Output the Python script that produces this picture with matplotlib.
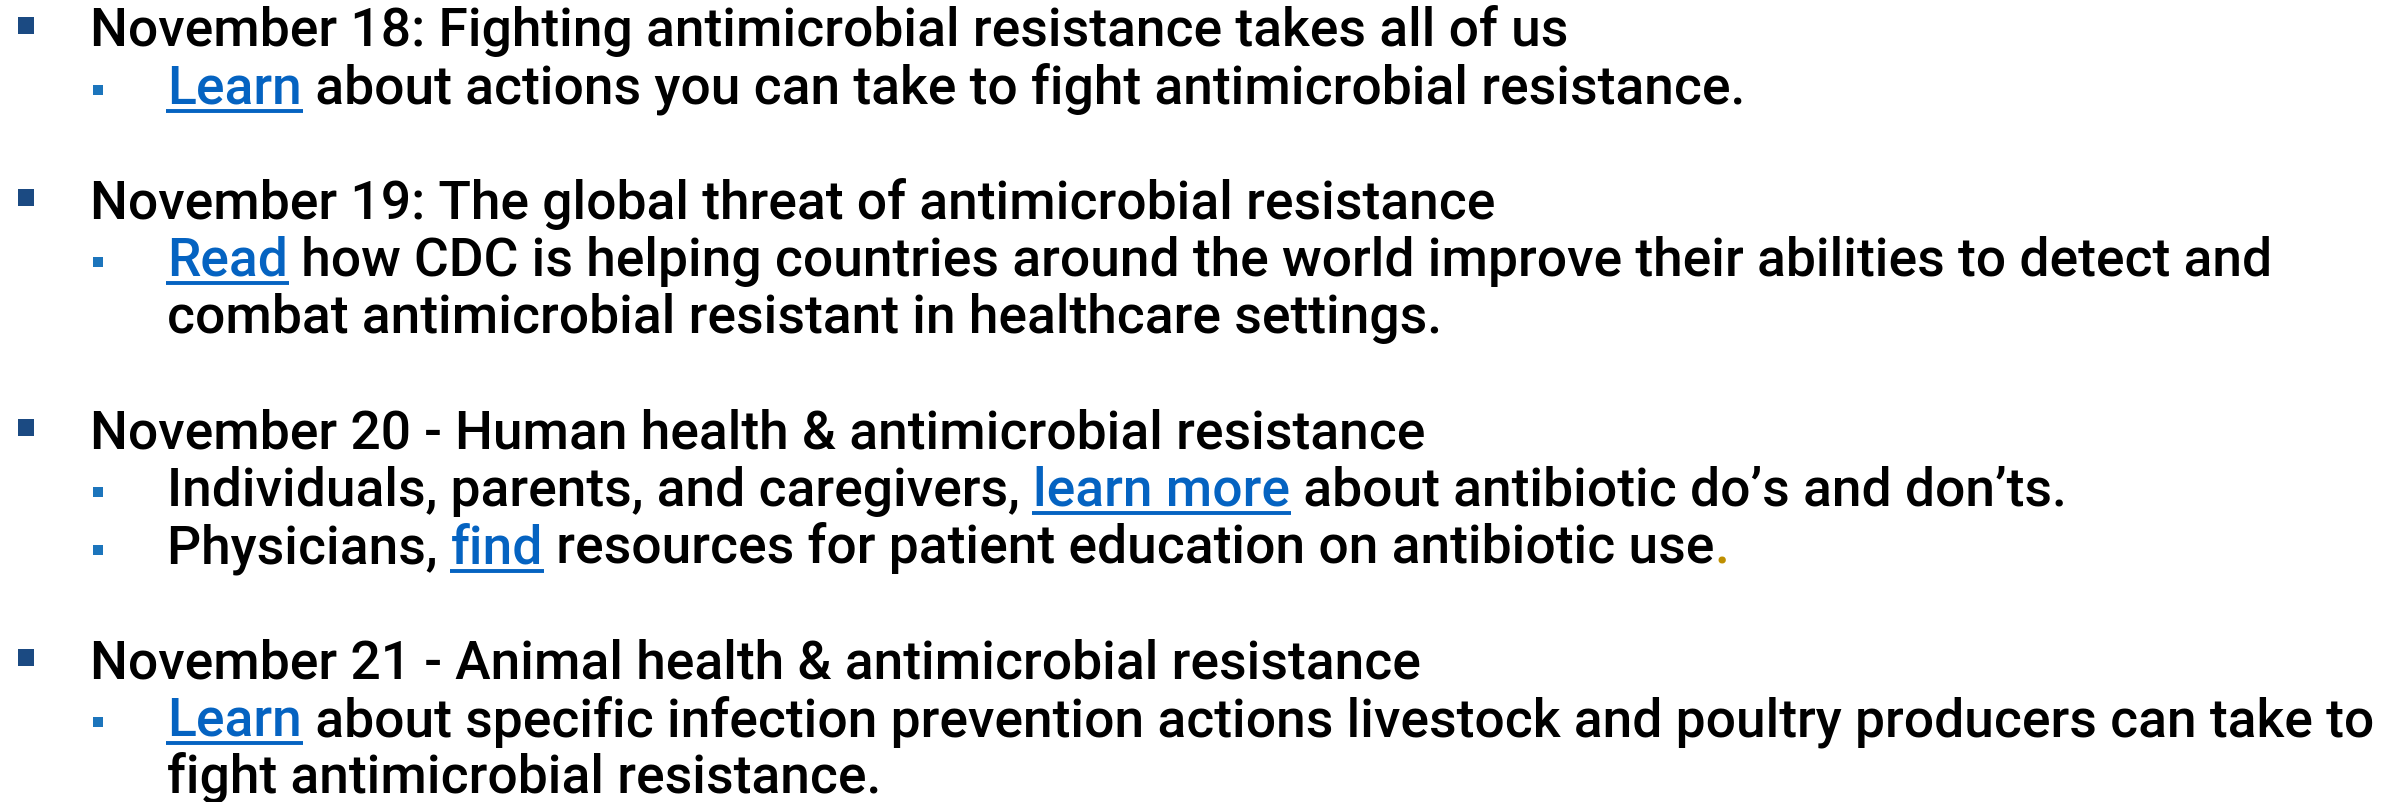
import matplotlib
matplotlib.use("Agg")
import matplotlib.pyplot as plt
from matplotlib.patches import Rectangle

# ---------------- content ----------------
headings = [
    "November 18: Fighting antimicrobial resistance takes all of us",
    "November 19: The global threat of antimicrobial resistance",
    "November 20 - Human health & antimicrobial resistance",
    "November 21 - Animal health & antimicrobial resistance",
]

# sub bullets per heading: each item is a list of lines, each line a list of (text, kind)
sub_items_18 = [
    [[("Learn", "link"), (" about actions you can take to fight antimicrobial resistance.", "plain")]],
]
sub_items_19 = [
    [[("Read", "link"), (" how CDC is helping countries around the world improve their abilities to detect and", "plain")],
     [("combat antimicrobial resistant in healthcare settings.", "plain")]],
]
sub_items_20 = [
    [[("Individuals, parents, and caregivers, ", "plain"), ("learn more", "link"),
      (" about antibiotic do\u2019s and don\u2019ts.", "plain")]],
    [[("Physicians, ", "plain"), ("find", "link"),
      (" resources for patient education on antibiotic use", "plain"), (".", "gold")]],
]
sub_items_21 = [
    [[("Learn", "link"), (" about specific infection prevention actions livestock and poultry producers can take to", "plain")],
     [("fight antimicrobial resistance.", "plain")]],
]
sub_items = [sub_items_18, sub_items_19, sub_items_20, sub_items_21]

# ---------------- style ----------------
W, H, DPI = 2400, 802, 100
FONT = ["Roboto", "DejaVu Sans"]
WEIGHT = "medium"
COLORS = {"plain": "#000000", "link": "#0563C1", "gold": "#BF8F00"}
L1_BULLET = "#1B4A82"
L2_BULLET = "#1C75BC"
FIT_LINE = "Read how CDC is helping countries around the world improve their abilities to detect and"
FIT_WIDTH = 2278.0 - 171.0
BASE0, PITCH = 46.0, 57.5
X1, X2 = 90.0, 167.0

fig = plt.figure(figsize=(W / DPI, H / DPI), dpi=DPI)
ax = fig.add_axes([0, 0, 1, 1])
ax.set_xlim(0, W)
ax.set_ylim(H, 0)
ax.axis("off")
renderer = fig.canvas.get_renderer()


def text_w(s, fs):
    t = ax.text(0, 0, s, fontsize=fs, family=FONT, fontweight=WEIGHT)
    w = t.get_window_extent(renderer).width
    t.remove()
    return w


fs = 10 * FIT_WIDTH / text_w(FIT_LINE, 10)
bar_w = text_w("|", fs)


def advance(s):
    return text_w(s + "|", fs) - bar_w


def draw_line(x, y, segments):
    for txt, kind in segments:
        ax.text(x, y, txt, fontsize=fs, family=FONT, fontweight=WEIGHT,
                color=COLORS[kind], ha="left", va="baseline")
        adv = advance(txt)
        if kind == "link":
            ax.plot([x - 1, x + adv + 1], [y + 7, y + 7], color=COLORS["link"],
                    lw=2.8, solid_capstyle="butt")
        x += adv


slot = 0
for hi, head in enumerate(headings):
    y = BASE0 + PITCH * slot
    ax.add_patch(Rectangle((18, y - 29.5), 16, 17, color=L1_BULLET, lw=0))
    draw_line(X1, y, [(head, "plain")])
    slot += 1
    for item in sub_items[hi]:
        y = BASE0 + PITCH * slot
        ax.add_patch(Rectangle((93, y - 19), 10, 10, color=L2_BULLET, lw=0))
        for line in item:
            y = BASE0 + PITCH * slot
            draw_line(X2, y, line)
            slot += 1
    slot += 1

fig.savefig("out.png", dpi=DPI, facecolor="white")
